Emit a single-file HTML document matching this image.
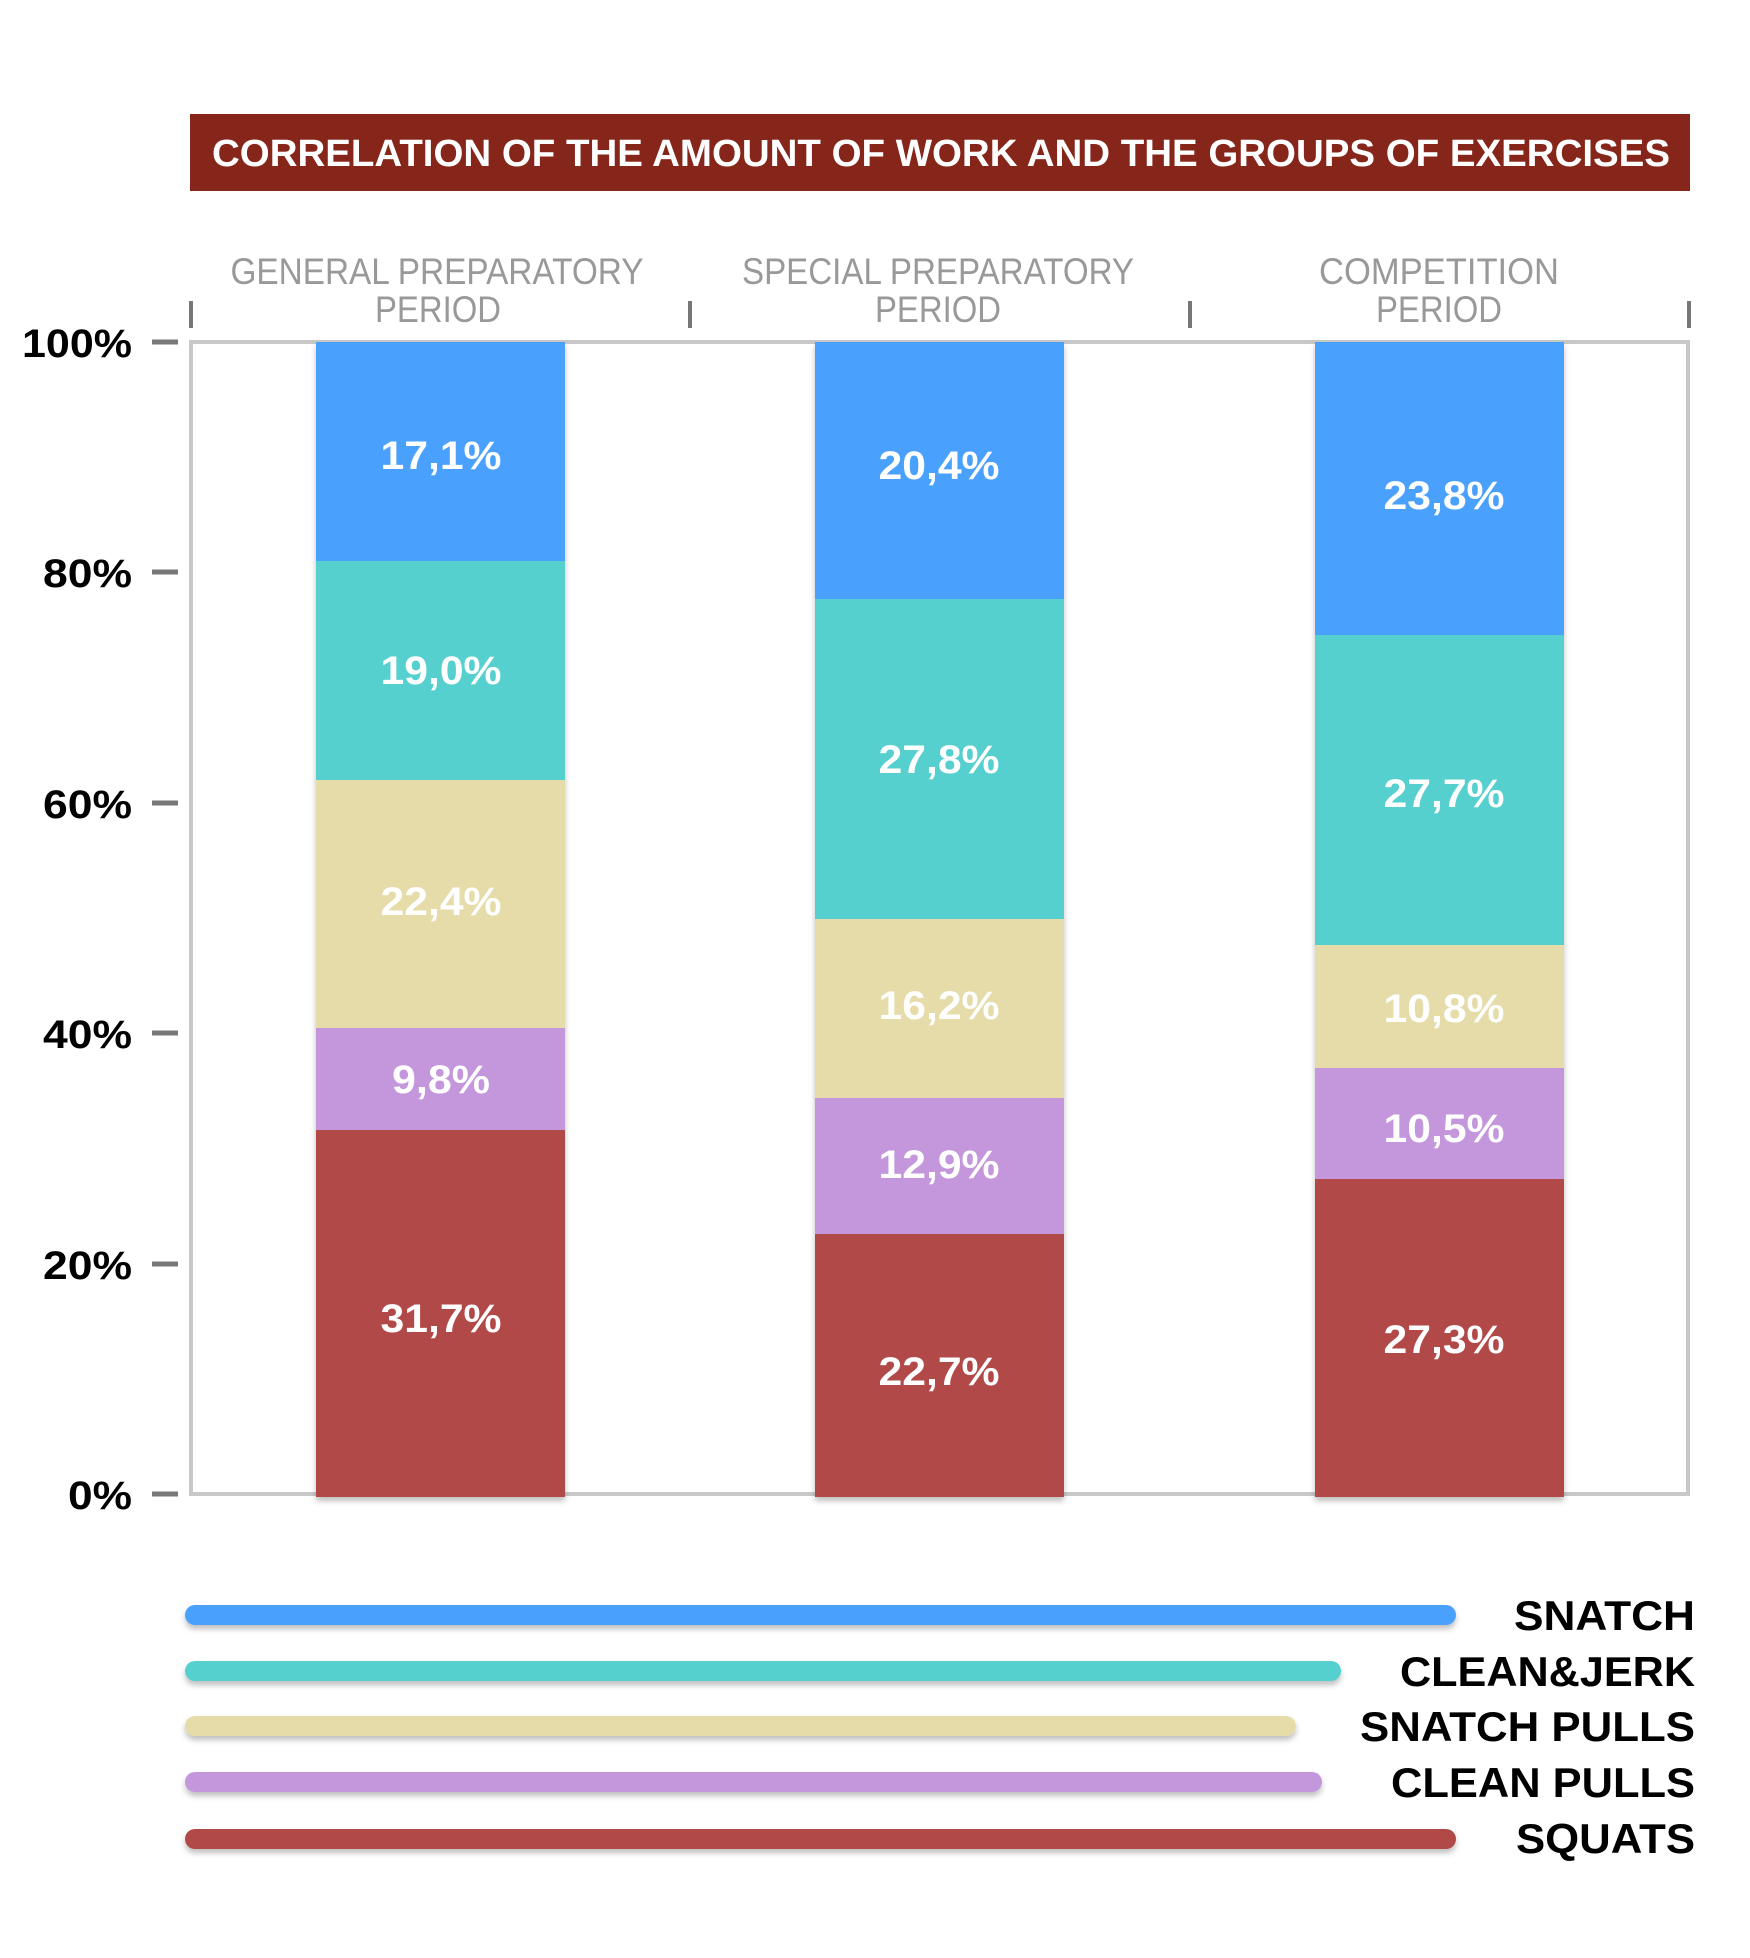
<!DOCTYPE html>
<html><head><meta charset="utf-8"><style>html,body{margin:0;padding:0;background:#fff}svg{display:block}</style></head><body>
<svg width="1750" height="1958" viewBox="0 0 1750 1958" xmlns="http://www.w3.org/2000/svg" font-family="Liberation Sans, sans-serif" font-weight="bold">
<defs><filter id="sh" x="-10%" y="-10%" width="120%" height="130%"><feDropShadow dx="0" dy="4" stdDeviation="3" flood-color="#000" flood-opacity="0.25"/></filter></defs>
<rect x="190" y="114" width="1500" height="77" fill="#86261a"/>
<text x="212" y="166" font-size="38" fill="#fff" textLength="1458" lengthAdjust="spacingAndGlyphs">CORRELATION OF THE AMOUNT OF WORK AND THE GROUPS OF EXERCISES</text>
<g fill="#999" font-weight="normal" font-size="37" text-anchor="middle">
<text x="437" y="284" textLength="413" lengthAdjust="spacingAndGlyphs">GENERAL PREPARATORY</text>
<text x="438" y="322" textLength="126" lengthAdjust="spacingAndGlyphs">PERIOD</text>
<text x="938" y="284" textLength="392" lengthAdjust="spacingAndGlyphs">SPECIAL PREPARATORY</text>
<text x="938" y="322" textLength="126" lengthAdjust="spacingAndGlyphs">PERIOD</text>
<text x="1439" y="284" textLength="240" lengthAdjust="spacingAndGlyphs">COMPETITION</text>
<text x="1439" y="322" textLength="126" lengthAdjust="spacingAndGlyphs">PERIOD</text>
</g>
<g stroke="#777" stroke-width="4"><line x1="191" y1="301" x2="191" y2="328"/><line x1="690" y1="301" x2="690" y2="328"/><line x1="1190" y1="301" x2="1190" y2="328"/><line x1="1689" y1="301" x2="1689" y2="328"/></g>
<rect x="191" y="342" width="1497" height="1152" fill="none" stroke="#c8c8c8" stroke-width="4"/>
<g stroke="#777" stroke-width="5">
<line x1="152" y1="342" x2="178" y2="342"/><line x1="152" y1="572" x2="178" y2="572"/><line x1="152" y1="803" x2="178" y2="803"/><line x1="152" y1="1033" x2="178" y2="1033"/><line x1="152" y1="1264" x2="178" y2="1264"/><line x1="152" y1="1494" x2="178" y2="1494"/></g>
<g font-size="40" fill="#000" text-anchor="end">
<text x="132" y="357" textLength="110" lengthAdjust="spacingAndGlyphs">100%</text><text x="132" y="587" textLength="89" lengthAdjust="spacingAndGlyphs">80%</text><text x="132" y="818" textLength="89" lengthAdjust="spacingAndGlyphs">60%</text><text x="132" y="1048" textLength="89" lengthAdjust="spacingAndGlyphs">40%</text><text x="132" y="1279" textLength="89" lengthAdjust="spacingAndGlyphs">20%</text><text x="132" y="1509" textLength="64" lengthAdjust="spacingAndGlyphs">0%</text></g>
<g filter="url(#sh)">
<rect x="316" y="342" width="249" height="219" fill="#49a0fd"/><rect x="316" y="561" width="249" height="219" fill="#56d0ce"/><rect x="316" y="780" width="249" height="248" fill="#e5dcaa"/><rect x="316" y="1028" width="249" height="102" fill="#c497dc"/><rect x="316" y="1130" width="249" height="367" fill="#b24a4a"/>
<rect x="815" y="342" width="249" height="257" fill="#49a0fd"/><rect x="815" y="599" width="249" height="320" fill="#56d0ce"/><rect x="815" y="919" width="249" height="179" fill="#e5dcaa"/><rect x="815" y="1098" width="249" height="136" fill="#c497dc"/><rect x="815" y="1234" width="249" height="263" fill="#b24a4a"/>
<rect x="1315" y="342" width="249" height="293" fill="#49a0fd"/><rect x="1315" y="635" width="249" height="310" fill="#56d0ce"/><rect x="1315" y="945" width="249" height="123" fill="#e5dcaa"/><rect x="1315" y="1068" width="249" height="111" fill="#c497dc"/><rect x="1315" y="1179" width="249" height="318" fill="#b24a4a"/>
</g>
<g font-size="40" fill="#fff" text-anchor="middle">
<text x="441" y="469" textLength="121" lengthAdjust="spacingAndGlyphs">17,1%</text><text x="441" y="684" textLength="121" lengthAdjust="spacingAndGlyphs">19,0%</text><text x="441" y="915" textLength="121" lengthAdjust="spacingAndGlyphs">22,4%</text><text x="441" y="1093" textLength="98" lengthAdjust="spacingAndGlyphs">9,8%</text><text x="441" y="1332" textLength="121" lengthAdjust="spacingAndGlyphs">31,7%</text>
<text x="939" y="479" textLength="121" lengthAdjust="spacingAndGlyphs">20,4%</text><text x="939" y="773" textLength="121" lengthAdjust="spacingAndGlyphs">27,8%</text><text x="939" y="1019" textLength="121" lengthAdjust="spacingAndGlyphs">16,2%</text><text x="939" y="1178" textLength="121" lengthAdjust="spacingAndGlyphs">12,9%</text><text x="939" y="1385" textLength="121" lengthAdjust="spacingAndGlyphs">22,7%</text>
<text x="1444" y="509" textLength="121" lengthAdjust="spacingAndGlyphs">23,8%</text><text x="1444" y="807" textLength="121" lengthAdjust="spacingAndGlyphs">27,7%</text><text x="1444" y="1022" textLength="121" lengthAdjust="spacingAndGlyphs">10,8%</text><text x="1444" y="1142" textLength="121" lengthAdjust="spacingAndGlyphs">10,5%</text><text x="1444" y="1353" textLength="121" lengthAdjust="spacingAndGlyphs">27,3%</text>
</g>
<g stroke-width="20" stroke-linecap="round" filter="url(#sh)">
<line x1="195" y1="1615" x2="1446" y2="1615" stroke="#49a0fd"/>
<line x1="195" y1="1671" x2="1331" y2="1671" stroke="#56d0ce"/>
<line x1="195" y1="1726" x2="1286" y2="1726" stroke="#e5dcaa"/>
<line x1="195" y1="1782" x2="1312" y2="1782" stroke="#c497dc"/>
<line x1="195" y1="1839" x2="1446" y2="1839" stroke="#b24a4a"/>
</g>
<g font-size="42" fill="#000" text-anchor="end">
<text x="1695" y="1630" textLength="181" lengthAdjust="spacingAndGlyphs">SNATCH</text>
<text x="1695" y="1686" textLength="295" lengthAdjust="spacingAndGlyphs">CLEAN&amp;JERK</text>
<text x="1695" y="1741" textLength="335" lengthAdjust="spacingAndGlyphs">SNATCH PULLS</text>
<text x="1695" y="1797" textLength="304" lengthAdjust="spacingAndGlyphs">CLEAN PULLS</text>
<text x="1695" y="1853" textLength="179" lengthAdjust="spacingAndGlyphs">SQUATS</text>
</g>
</svg>
</body></html>
